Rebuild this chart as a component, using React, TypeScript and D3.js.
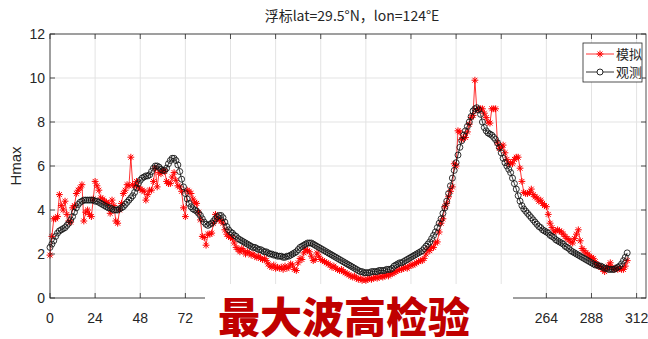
import React from "react";
import * as d3 from "d3";

// Buoy record, hourly steps from the start of the series
const observed: number[] = [
  2.3, 2.45, 2.6, 2.8, 2.95, 3.05, 3.1, 3.15, 3.2, 3.3,
  3.4, 3.55, 3.7, 3.9, 4.1, 4.25, 4.35, 4.4, 4.45, 4.45,
  4.45, 4.45, 4.45, 4.45, 4.4, 4.4, 4.35, 4.3, 4.25, 4.2,
  4.15, 4.1, 4.1, 4.05, 4.0, 4.0, 4.0, 4.05, 4.1, 4.15,
  4.25, 4.35, 4.45, 4.55, 4.65, 4.8, 5.0, 5.2, 5.35, 5.45,
  5.5, 5.55, 5.55, 5.6, 5.75, 5.9, 6.0, 6.0, 5.95, 5.85,
  5.8, 5.8, 5.9, 6.1, 6.25, 6.35, 6.35, 6.25, 6.05, 5.75,
  5.4, 5.05, 4.75, 4.5, 4.3, 4.15, 4.05, 4.0, 3.95, 3.85,
  3.75, 3.6, 3.45, 3.35, 3.3, 3.35, 3.4, 3.5, 3.6, 3.7,
  3.75, 3.75, 3.65, 3.45, 3.25, 3.1, 3.0, 2.95, 2.85, 2.8,
  2.7, 2.65, 2.6, 2.55, 2.5, 2.45, 2.4, 2.35, 2.3, 2.3,
  2.25, 2.2, 2.2, 2.15, 2.1, 2.1, 2.05, 2.0, 2.0, 1.95,
  1.95, 1.9, 1.9, 1.9, 1.85, 1.85, 1.9, 1.9, 1.95, 2.0,
  2.05, 2.1, 2.2, 2.3, 2.35, 2.4, 2.45, 2.5, 2.5, 2.5,
  2.45, 2.4, 2.35, 2.3, 2.25, 2.2, 2.15, 2.1, 2.05, 2.0,
  1.95, 1.9, 1.85, 1.8, 1.75, 1.7, 1.65, 1.6, 1.55, 1.5,
  1.45, 1.4, 1.35, 1.3, 1.25, 1.2, 1.2, 1.15, 1.15, 1.15,
  1.15, 1.2, 1.2, 1.2, 1.2, 1.25, 1.25, 1.25, 1.25, 1.3,
  1.3, 1.3, 1.35, 1.45, 1.5, 1.55, 1.6, 1.6, 1.65, 1.7,
  1.75, 1.8, 1.85, 1.9, 1.95, 2.0, 2.05, 2.1, 2.15, 2.25,
  2.35, 2.45, 2.55, 2.7, 2.85, 3.0, 3.2, 3.4, 3.6, 3.85,
  4.1, 4.4, 4.75, 5.1, 5.45, 5.8, 6.15, 6.5, 6.85, 7.15,
  7.4, 7.6, 7.8, 8.0, 8.25, 8.5, 8.6, 8.65, 8.55, 8.35,
  8.0, 7.75, 7.6, 7.5, 7.45, 7.4, 7.3, 7.2, 7.05, 6.85,
  6.6, 6.35, 6.15, 6.0, 5.85, 5.7, 5.45, 5.2, 4.95, 4.65,
  4.4, 4.2, 4.05, 3.95, 3.85, 3.75, 3.65, 3.55, 3.45, 3.35,
  3.25, 3.2, 3.1, 3.05, 3.0, 2.95, 2.85, 2.8, 2.75, 2.65,
  2.6, 2.55, 2.5, 2.45, 2.35, 2.3, 2.25, 2.15, 2.1, 2.05,
  2.0, 1.95, 1.9, 1.85, 1.8, 1.75, 1.7, 1.65, 1.6, 1.55,
  1.5, 1.5, 1.45, 1.45, 1.4, 1.35, 1.35, 1.3, 1.3, 1.3,
  1.3, 1.35, 1.4, 1.45, 1.55, 1.7, 1.85, 2.05,
];

// Model output at the same hours
const simulated: number[] = [
  1.95, 2.8, 3.6, 3.6, 3.7, 4.7, 4.2, 4.0, 4.4, 3.8,
  3.5, 3.45, 4.1, 4.2, 4.75, 4.9, 5.0, 5.15, 3.5, 3.9,
  4.0, 3.8, 3.7, 4.5, 5.3, 5.1, 4.9, 4.55, 4.5, 4.4,
  4.35, 4.3, 3.85, 4.45, 4.2, 3.5, 3.4, 4.0, 4.3, 4.75,
  4.9, 5.15, 5.1, 6.4, 5.15, 5.1, 5.3, 5.05, 4.95, 4.9,
  4.85, 4.45, 4.7, 4.9, 4.9, 5.3, 5.9, 5.05, 5.7, 5.65,
  5.8, 5.75, 5.3, 5.2, 5.2, 5.5, 5.7, 5.35, 5.1, 5.05,
  4.85, 4.1, 3.7, 4.9, 4.85, 4.75, 4.5, 4.35, 4.3, 3.9,
  3.55, 2.8, 2.75, 2.4, 2.9, 2.9, 2.95, 3.4, 3.8, 3.6,
  3.55, 3.5, 3.4, 3.1, 2.9, 2.8, 2.75, 2.7, 2.5, 2.3,
  2.2, 2.1, 2.25, 2.15, 2.0, 2.1, 2.05, 1.95, 2.0, 1.9,
  1.85, 1.9, 1.8, 1.75, 1.8, 1.7, 1.55, 1.45, 1.4, 1.5,
  1.35, 1.4, 1.35, 1.4, 1.3, 1.45, 1.35, 1.4, 1.55, 1.5,
  1.3, 1.25, 1.6, 1.8, 1.75, 2.05, 2.2, 2.15, 2.1, 1.9,
  1.7, 1.75, 2.05, 1.9, 1.75, 1.7, 1.65, 1.6, 1.55, 1.5,
  1.4, 1.45, 1.35, 1.3, 1.25, 1.3, 1.2, 1.15, 1.1, 1.05,
  1.0, 0.95, 1.0, 0.9, 0.85, 0.9, 0.8, 0.85, 0.8, 0.85,
  0.9, 0.85, 0.9, 0.95, 0.9, 0.95, 1.0, 0.95, 1.0, 1.05,
  1.0, 1.1, 1.1, 1.15, 1.2, 1.25, 1.3, 1.3, 1.35, 1.4,
  1.35, 1.45, 1.5, 1.5, 1.55, 1.6, 1.65, 1.7, 1.7, 1.8,
  2.0, 2.2, 2.15, 2.3, 2.3, 2.5, 2.55, 3.0, 3.4, 3.6,
  4.15, 4.3, 4.6, 4.85, 5.05, 6.1, 6.0, 7.6, 7.55, 7.2,
  7.3, 7.3, 7.55, 7.9, 8.2, 8.3, 9.9, 8.55, 8.6, 8.6,
  8.6, 8.4, 8.2, 8.0, 7.95, 8.6, 8.6, 8.6, 7.05, 6.8,
  6.85, 6.95, 6.6, 6.3, 6.1, 6.15, 6.1, 6.3, 6.4, 6.4,
  5.9, 5.3, 4.8, 4.75, 4.75, 4.8, 4.95, 4.7, 4.6, 4.55,
  4.4, 4.45, 4.3, 4.2, 4.15, 3.8, 3.4, 3.2, 3.0, 3.05,
  3.1, 3.05, 3.0, 2.9, 2.8, 2.7, 2.65, 2.55, 2.5, 2.7,
  2.9, 3.1, 2.6, 2.25, 2.15, 2.05, 2.0, 1.9, 1.85, 1.8,
  1.65, 1.5, 1.45, 1.4, 1.3, 1.2, 1.35, 1.45, 1.6, 1.4,
  1.3, 1.35, 1.3, 1.35, 1.3, 1.3, 1.45, 1.7,
];

const xTicks: number[] = [0, 24, 48, 72, 96, 120, 144, 168, 192, 216, 240, 264, 288, 312];
const yTicks: number[] = [0, 2, 4, 6, 8, 10, 12];
const seriesNames: string[] = ["模拟", "观测"];
const titleText = "浮标lat=29.5°N，lon=124°E";
const bannerText = "最大波高检验";

const W = 648;
const H = 339;
const plot = { left: 50, right: 646, top: 34, bottom: 298 };
const banner = { x0: 205, x1: 513, top: 284 };
const axisColor = "#262626";
const gridColor = "#e3e3e3";
const numFont = "'Liberation Sans Narrow', 'Arial Narrow', 'Liberation Sans', sans-serif";
const cjkFont = "'Liberation Sans Narrow', 'Noto Sans CJK SC', sans-serif";

const x = d3.scaleLinear().domain([0, 317]).range([plot.left, plot.right]);
const y = d3.scaleLinear().domain([0, 12]).range([plot.bottom, plot.top]);

const line = d3
  .line<number>()
  .x((_, i) => x(i))
  .y((d) => y(d));

// MATLAB-style '*' marker: plus and cross overlaid
function starPath(cx: number, cy: number, r: number): string {
  const d = r * 0.72;
  return (
    `M${cx - r},${cy}L${cx + r},${cy}` +
    `M${cx},${cy - r}L${cx},${cy + r}` +
    `M${cx - d},${cy - d}L${cx + d},${cy + d}` +
    `M${cx - d},${cy + d}L${cx + d},${cy - d}`
  );
}

// x tick labels that sit under the banner panel are hidden by it
const visibleXLabels = xTicks.filter((t) => x(t) < banner.x0 - 10 || x(t) > banner.x1 + 10);

export default function App() {
  const tickLen = 5;
  return (
    <svg width={W} height={H} style={{ display: "block", position: "absolute", left: 0, top: 0 }}>
      <rect x={0} y={0} width={W} height={H} fill="#ffffff" />

      {/* grid */}
      <g stroke={gridColor} strokeWidth={1}>
        {xTicks.map((t) => (
          <line key={"gx" + t} x1={x(t)} x2={x(t)} y1={plot.top} y2={plot.bottom} />
        ))}
        {yTicks.map((t) => (
          <line key={"gy" + t} x1={plot.left} x2={plot.right} y1={y(t)} y2={y(t)} />
        ))}
      </g>

      {/* simulated series */}
      <path d={line(simulated) || ""} fill="none" stroke="#ff0000" strokeWidth={0.8} />
      <path
        d={simulated.map((v, i) => starPath(x(i), y(v), 3.4)).join("")}
        fill="none"
        stroke="#ff0000"
        strokeWidth={1}
      />

      {/* observed series */}
      <path d={line(observed) || ""} fill="none" stroke="#000000" strokeWidth={0.8} />
      <g fill="none" stroke="#111111" strokeWidth={0.85}>
        {observed.map((v, i) => (
          <circle key={"o" + i} cx={x(i)} cy={y(v)} r={3} />
        ))}
      </g>

      {/* axes box and ticks */}
      <rect
        x={plot.left}
        y={plot.top}
        width={plot.right - plot.left}
        height={plot.bottom - plot.top}
        fill="none"
        stroke={axisColor}
        strokeWidth={0.8}
      />
      <g stroke={axisColor} strokeWidth={0.8}>
        {xTicks.map((t) => (
          <g key={"tx" + t}>
            <line x1={x(t)} x2={x(t)} y1={plot.bottom} y2={plot.bottom - tickLen} />
            <line x1={x(t)} x2={x(t)} y1={plot.top} y2={plot.top + tickLen} />
          </g>
        ))}
        {yTicks.map((t) => (
          <g key={"ty" + t}>
            <line x1={plot.left} x2={plot.left + tickLen} y1={y(t)} y2={y(t)} />
            <line x1={plot.right} x2={plot.right - tickLen} y1={y(t)} y2={y(t)} />
          </g>
        ))}
      </g>

      {/* tick labels */}
      <g fill={axisColor} fontFamily={numFont} fontSize={14}>
        {visibleXLabels.map((t) => (
          <text key={"lx" + t} x={x(t)} y={plot.bottom + 25} textAnchor="middle">
            {t}
          </text>
        ))}
        {yTicks.map((t) => (
          <text key={"ly" + t} x={plot.left - 5} y={y(t)} dy="0.35em" textAnchor="end">
            {t}
          </text>
        ))}
      </g>

      {/* axis label and title */}
      <text
        transform={`translate(21,${(plot.top + plot.bottom) / 2}) rotate(-90)`}
        textAnchor="middle"
        fill={axisColor}
        fontFamily={numFont}
        fontSize={15}
      >
        Hmax
      </text>
      <text x={352} y={21} textAnchor="middle" fill={axisColor} fontFamily={cjkFont} fontSize={14}>
        {titleText}
      </text>

      {/* legend */}
      <g>
        <rect x={583} y={43} width={59} height={39} fill="#ffffff" stroke={axisColor} strokeWidth={0.8} />
        <line x1={586} x2={614} y1={54} y2={54} stroke="#ff0000" strokeWidth={0.8} />
        <path d={starPath(600, 54, 3.4)} fill="none" stroke="#ff0000" strokeWidth={1} />
        <line x1={586} x2={614} y1={72} y2={72} stroke="#000000" strokeWidth={0.8} />
        <circle cx={600} cy={72} r={3} fill="#ffffff" stroke="#000000" strokeWidth={0.85} />
        {seriesNames.map((name, i) => (
          <text
            key={name}
            x={616}
            y={54 + i * 18}
            dy="0.36em"
            fill={axisColor}
            fontFamily="'Noto Sans CJK SC', sans-serif"
            fontSize={13}
          >
            {name}
          </text>
        ))}
      </g>

      {/* banner */}
      <rect x={banner.x0} y={banner.top} width={banner.x1 - banner.x0} height={H - banner.top} fill="#ffffff" />
      <text
        x={218}
        y={333}
        fill="#c00000"
        fontFamily="'Noto Sans CJK SC', sans-serif"
        fontWeight={900}
        fontSize={42}
      >
        {bannerText}
      </text>
    </svg>
  );
}
